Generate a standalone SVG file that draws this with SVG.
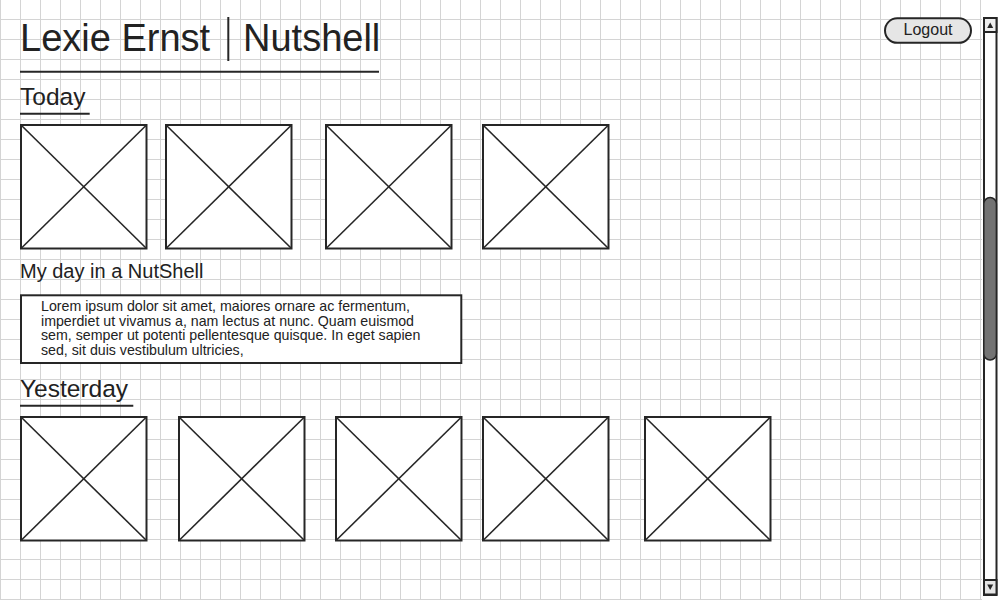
<svg xmlns="http://www.w3.org/2000/svg" width="1003" height="601" viewBox="0 0 1003 601">
<defs>
<pattern id="grid" width="20" height="20" patternUnits="userSpaceOnUse">
<rect x="0" y="0" width="20" height="20" fill="#ffffff"/>
<rect x="0" y="0" width="1" height="20" fill="#d4d4d4"/>
<rect x="0" y="19" width="20" height="1" fill="#d4d4d4"/>
</pattern>
<g id="ph">
<rect x="1" y="1" width="125.5" height="123.5" fill="#ffffff" stroke="#262626" stroke-width="2"/>
<line x1="1" y1="1" x2="126.5" y2="124.5" stroke="#262626" stroke-width="1.6"/>
<line x1="126.5" y1="1" x2="1" y2="124.5" stroke="#262626" stroke-width="1.6"/>
</g>
</defs>
<style>
text{font-family:"Liberation Sans",Arial,Helvetica,sans-serif;fill:#222222}
.rule{stroke:#262626;stroke-width:2;fill:none}
.h1{font-size:38px}
.h2{font-size:24.5px}
.lbl{font-size:20px}
.body{font-size:14.2px}
</style>
<rect x="0" y="0" width="1003" height="601" fill="#ffffff"/>
<rect x="0" y="0" width="982" height="600" fill="url(#grid)"/>

<g id="header">
<text class="h1" x="20" y="51">Lexie Ernst</text>
<line class="rule" x1="228.3" y1="17" x2="228.3" y2="61"/>
<text class="h1" x="243" y="51">Nutshell</text>
<line class="rule" x1="20" y1="71.7" x2="379" y2="71.7"/>
</g>

<g id="logout">
<rect x="885" y="18.3" width="86" height="24.5" rx="12.25" fill="#e6e6e6" stroke="#262626" stroke-width="2"/>
<text x="928" y="35" font-size="16" text-anchor="middle">Logout</text>
</g>

<g id="scrollbar">
<rect x="984" y="18" width="12.5" height="577" fill="#ffffff" stroke="#262626" stroke-width="2"/>
<rect x="984" y="18" width="12.5" height="14" fill="#eeeeee" stroke="#262626" stroke-width="2"/>
<path d="M987.2 28 L993.2 28 L990.2 22.5 Z" fill="#262626"/>
<rect x="984" y="580" width="12.5" height="14.5" fill="#e6e6e6" stroke="#262626" stroke-width="2"/>
<path d="M987.2 584.5 L993.2 584.5 L990.2 590 Z" fill="#262626"/>
<rect x="983.8" y="197.5" width="12.6" height="162.5" rx="6.3" fill="#737373" stroke="#262626" stroke-width="1.5"/>
</g>

<g id="today">
<text class="h2" x="20" y="105">Today</text>
<line class="rule" x1="20" y1="113.7" x2="89.7" y2="113.7"/>
</g>
<g id="today-img1"><use href="#ph" x="20" y="124"/></g>
<g id="today-img2"><use href="#ph" x="165" y="124"/></g>
<g id="today-img3"><use href="#ph" x="325" y="124"/></g>
<g id="today-img4"><use href="#ph" x="482" y="124"/></g>

<g id="nutshell-label">
<text class="lbl" x="20" y="277.5">My day in a NutShell</text>
</g>
<g id="nutshell-text">
<rect x="21" y="295.3" width="440.3" height="67.7" fill="#ffffff" stroke="#262626" stroke-width="2"/>
<text class="body" x="41" y="311">Lorem ipsum dolor sit amet, maiores ornare ac fermentum,</text>
<text class="body" x="41" y="325.5">imperdiet ut vivamus a, nam lectus at nunc. Quam euismod</text>
<text class="body" x="41" y="340">sem, semper ut potenti pellentesque quisque. In eget sapien</text>
<text class="body" x="41" y="354.5">sed, sit duis vestibulum ultricies,</text>
</g>

<g id="yesterday">
<text class="h2" x="20" y="397">Yesterday</text>
<line class="rule" x1="20" y1="405.7" x2="133.3" y2="405.7"/>
</g>
<g id="yesterday-img1"><use href="#ph" x="20" y="416"/></g>
<g id="yesterday-img2"><use href="#ph" x="178" y="416"/></g>
<g id="yesterday-img3"><use href="#ph" x="335" y="416"/></g>
<g id="yesterday-img4"><use href="#ph" x="482" y="416"/></g>
<g id="yesterday-img5"><use href="#ph" x="644" y="416"/></g>

<g id="connectors"/>
</svg>
